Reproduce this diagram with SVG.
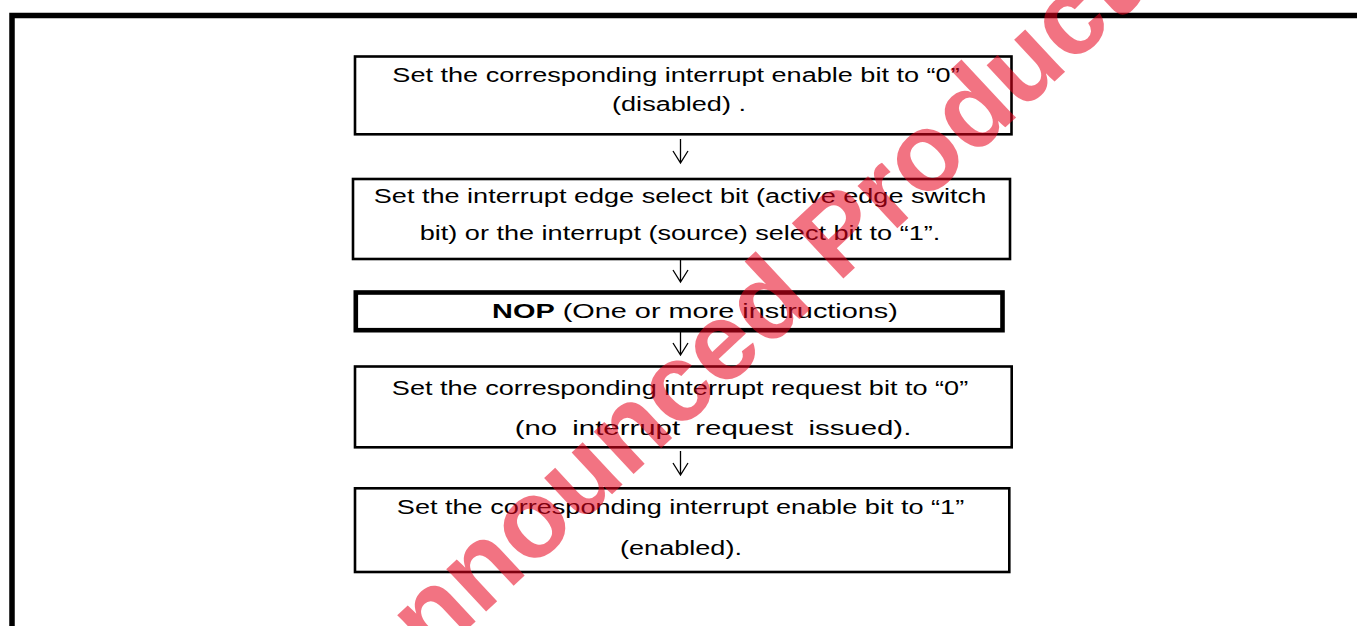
<svg xmlns="http://www.w3.org/2000/svg" width="1357" height="626" viewBox="0 0 1357 626">
<style>
.box{fill:none;stroke:#000;stroke-width:2.6}
.nop{fill:none;stroke:#000;stroke-width:4.6}
.t{font-family:"Liberation Sans",Arial,sans-serif;font-size:21px;fill:#000;text-anchor:middle}
.b{font-weight:bold}
.arr{fill:none;stroke:#000;stroke-width:1.3;stroke-linecap:butt;stroke-linejoin:miter}
.wm{font-family:"Liberation Sans",Arial,sans-serif;font-size:110px;font-weight:bold;fill:#e8001c;fill-opacity:0.55}
</style>
<rect x="0" y="0" width="1357" height="626" fill="#fff"/>
<path d="M12,630 V15.5 H1360" fill="none" stroke="#000" stroke-width="5.5"/>
<g id="connectors">
<path class="arr" d="M680.5,139 V163 M673,151 L680.5,163 L688,151"/>
<path class="arr" d="M680.5,260 V282 M673,270 L680.5,282 L688,270"/>
<path class="arr" d="M680.5,332 V355 M673,343 L680.5,355 L688,343"/>
<path class="arr" d="M680.5,451 V475 M673,463 L680.5,475 L688,463"/>
</g>
<g id="step1">
<rect class="box" x="355" y="56.5" width="656.5" height="77.8"/>
<text class="t" transform="translate(676,82) scale(1.29,1)">Set the corresponding interrupt enable bit to “0”</text>
<text class="t" transform="translate(679,111) scale(1.29,1)">(disabled) .</text>
</g>
<g id="step2">
<rect class="box" x="353" y="179" width="657" height="80"/>
<text class="t" transform="translate(680,203) scale(1.29,1)">Set the interrupt edge select bit (active edge switch</text>
<text class="t" transform="translate(680,240) scale(1.29,1)">bit) or the interrupt (source) select bit to “1”.</text>
</g>
<g id="step3">
<rect class="nop" x="355.8" y="292.5" width="646.7" height="37.7"/>
<text class="t" transform="translate(695,318) scale(1.375,1)"><tspan class="b">NOP</tspan> (One or more instructions)</text>
</g>
<g id="step4">
<rect class="box" x="355" y="366.5" width="656.7" height="80.8"/>
<text class="t" transform="translate(680,395) scale(1.29,1)">Set the corresponding interrupt request bit to “0”</text>
<text class="t" transform="translate(713,435) scale(1.4,1)" word-spacing="5">(no interrupt request issued).</text>
</g>
<g id="step5">
<rect class="box" x="355" y="488.3" width="654.3" height="83.7"/>
<text class="t" transform="translate(680.5,514) scale(1.29,1)">Set the corresponding interrupt enable bit to “1”</text>
<text class="t" transform="translate(681,555) scale(1.29,1)">(enabled).</text>
</g>
<g id="watermark">
<text class="wm" text-anchor="end" transform="translate(1142,0) rotate(-43)">Unannounced Product</text>
</g>
</svg>
